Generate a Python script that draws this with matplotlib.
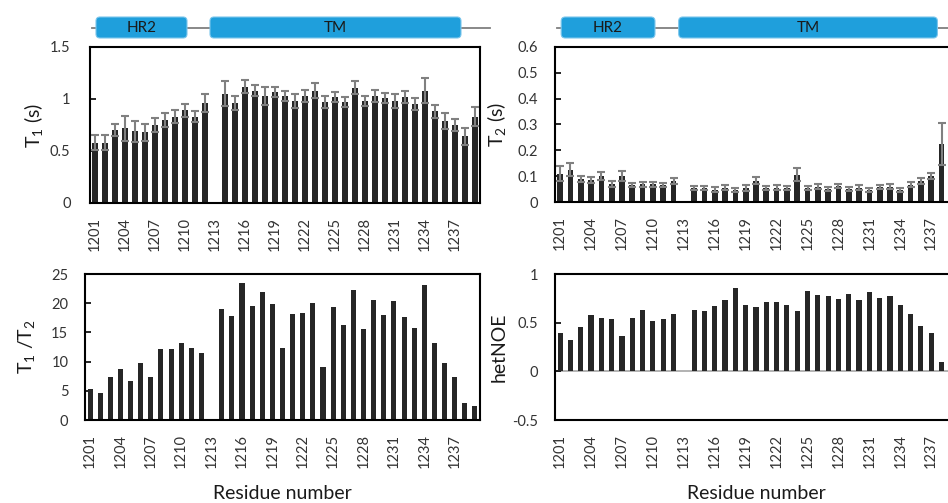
import numpy as np
import matplotlib
matplotlib.use('Agg')
import matplotlib.pyplot as plt
from matplotlib.patches import FancyBboxPatch
from matplotlib.ticker import FuncFormatter

plt.rcParams['font.family'] = ['Lato', 'DejaVu Sans']
plt.rcParams['mathtext.fontset'] = 'custom'
plt.rcParams['mathtext.rm'] = 'Lato'
plt.rcParams['mathtext.it'] = 'Lato:italic'

nan = np.nan

# data (1213 has no value)
residues = list(range(1201, 1240))
t1 = [0.58, 0.58, 0.70, 0.72, 0.69, 0.68, 0.75, 0.80, 0.83, 0.89, 0.83, 0.96, nan,
      1.05, 0.96, 1.12, 1.08, 1.03, 1.07, 1.03, 0.98, 1.03, 1.08, 0.97, 1.02, 0.97,
      1.11, 0.98, 1.03, 1.01, 0.98, 1.02, 0.95, 1.08, 0.88, 0.79, 0.75, 0.64, 0.83]
t1_err = [0.07, 0.07, 0.06, 0.12, 0.10, 0.08, 0.07, 0.07, 0.065, 0.06, 0.055, 0.085, nan,
          0.12, 0.065, 0.065, 0.055, 0.085, 0.05, 0.05, 0.065, 0.055, 0.07, 0.06, 0.05, 0.05,
          0.06, 0.05, 0.06, 0.045, 0.07, 0.06, 0.055, 0.12, 0.065, 0.075, 0.06, 0.08, 0.09]
t2 = [0.11, 0.125, 0.09, 0.085, 0.10, 0.07, 0.10, 0.066, 0.068, 0.068, 0.067, 0.08, nan,
      0.055, 0.054, 0.048, 0.055, 0.047, 0.054, 0.083, 0.054, 0.056, 0.054, 0.105, 0.053, 0.06,
      0.05, 0.063, 0.05, 0.056, 0.048, 0.058, 0.06, 0.047, 0.067, 0.081, 0.10, 0.225, 0.34]
t2_err = [0.03, 0.025, 0.012, 0.012, 0.015, 0.01, 0.02, 0.008, 0.008, 0.008, 0.008, 0.012, nan,
          0.008, 0.008, 0.01, 0.01, 0.008, 0.012, 0.015, 0.008, 0.008, 0.008, 0.025, 0.008, 0.008,
          0.008, 0.008, 0.008, 0.008, 0.008, 0.008, 0.008, 0.008, 0.01, 0.01, 0.012, 0.08, 0.19]
ratio = [5.25, 4.7, 7.3, 8.7, 6.7, 9.75, 7.3, 12.2, 12.2, 13.1, 12.4, 11.5, nan,
         18.95, 17.8, 23.4, 19.6, 21.9, 19.9, 12.4, 18.1, 18.3, 20.0, 9.1, 19.35, 16.3,
         22.3, 15.6, 20.5, 18.0, 20.3, 17.6, 15.8, 23.2, 13.1, 9.75, 7.3, 2.85, 2.45]
het_noe = [0.39, 0.325, 0.46, 0.58, 0.55, 0.54, 0.36, 0.55, 0.63, 0.52, 0.54, 0.59, nan,
           0.63, 0.62, 0.67, 0.73, 0.86, 0.68, 0.66, 0.71, 0.71, 0.68, 0.62, 0.83, 0.78,
           0.77, 0.74, 0.79, 0.73, 0.82, 0.75, 0.77, 0.68, 0.59, 0.47, 0.39, 0.10, nan]
domains = [('HR2', 1201.1, 1210.2), ('TM', 1212.5, 1237.6)]
tick_residues = residues[::3]

W, H = 948, 503
fig = plt.figure(figsize=(W / 100, H / 100), dpi=100)
bar_col = '#262626'
txt_col = '#333333'


def px_axes(l, t, r, b):
    return fig.add_axes([l / W, 1 - b / H, (r - l) / W, (b - t) / H])


def style(ax, ylim, yticks, pad):
    ax.set_xlim(1200.5, 1239.5)
    ax.set_ylim(*ylim)
    ax.set_yticks(yticks)
    ax.yaxis.set_major_formatter(FuncFormatter(lambda v, p: f'{v:g}'))
    ax.set_xticks(tick_residues)
    ax.set_xticklabels([str(r) for r in tick_residues], rotation=90)
    ax.tick_params(axis='y', direction='in', length=4, width=1.2, pad=pad,
                   labelsize=10.5, labelcolor=txt_col)
    ax.tick_params(axis='x', length=0, pad=10, labelsize=10.5, labelcolor=txt_col)
    for s in ax.spines.values():
        s.set_linewidth(1.5)
        s.set_color('black')


def domain_strip(l, r, px_per_res):
    sa = px_axes(l, 17, r, 38)
    sa.set_xlim(1200.5, 1239.5)
    sa.set_ylim(0, 1)
    sa.axis('off')
    sa.plot([1200.7, 1240.5], [0.5, 0.5], color='#7f7f7f', lw=1.3, zorder=1, clip_on=False)
    for name, a, b in domains:
        p = FancyBboxPatch((a, 0), b - a, 1, boxstyle='round,pad=0,rounding_size=0.4',
                           mutation_aspect=px_per_res / 21, fc='#1f9fdc', ec='#7cc6ec',
                           lw=0.8, zorder=2, clip_on=False)
        sa.add_patch(p)
        sa.text((a + b) / 2, 0.5, name, ha='center', va='center', fontsize=11,
                color='#1a1a1a', zorder=3)


# T1
ax1 = px_axes(90, 47, 480, 203)
ax1.bar(residues, t1, width=0.55, color=bar_col, zorder=2)
ax1.errorbar(residues, t1, yerr=t1_err, fmt='none', ecolor='#808080', elinewidth=1.5,
             capsize=3, capthick=1.5, zorder=3)
style(ax1, (0, 1.5), [0, 0.5, 1, 1.5], 14)
ax1.set_ylabel(r'T$_1$ (s)', fontsize=14, color='#1a1a1a')
ax1.yaxis.set_label_coords(-0.115, 0.5)
domain_strip(90, 480, 10)

# T2
ax2 = px_axes(555, 47, 957, 202)
ax2.bar(residues, t2, width=0.55, color=bar_col, zorder=2)
ax2.errorbar(residues, t2, yerr=t2_err, fmt='none', ecolor='#808080', elinewidth=1.5,
             capsize=3, capthick=1.5, zorder=3)
style(ax2, (0, 0.6), [0, 0.1, 0.2, 0.3, 0.4, 0.5, 0.6], 12)
ax2.set_ylabel(r'T$_2$ (s)', fontsize=14, color='#1a1a1a')
ax2.yaxis.set_label_coords(-0.117, 0.5)
domain_strip(555, 957, 10.3)

# T1/T2
ax3 = px_axes(85, 274, 480, 420)
ax3.bar(residues, ratio, width=0.5, color=bar_col, zorder=2)
style(ax3, (0, 25), [0, 5, 10, 15, 20, 25], 12)
ax3.set_ylabel(r'T$_1$ /T$_2$', fontsize=14, color='#1a1a1a')
ax3.yaxis.set_label_coords(-0.122, 0.5)
ax3.set_xlabel('Residue number', fontsize=14, color='#1a1a1a', labelpad=12)

# hetNOE
ax4 = px_axes(555, 274, 957, 420)
ax4.axhline(0, color='#a6a6a6', lw=1.2, zorder=1)
ax4.bar(residues, het_noe, width=0.5, color=bar_col, zorder=2)
style(ax4, (-0.5, 1), [-0.5, 0, 0.5, 1], 12)
ax4.set_ylabel('hetNOE', fontsize=14, color='#1a1a1a')
ax4.yaxis.set_label_coords(-0.117, 0.5)
ax4.set_xlabel('Residue number', fontsize=14, color='#1a1a1a', labelpad=12)

fig.savefig('out.png', dpi=100)
